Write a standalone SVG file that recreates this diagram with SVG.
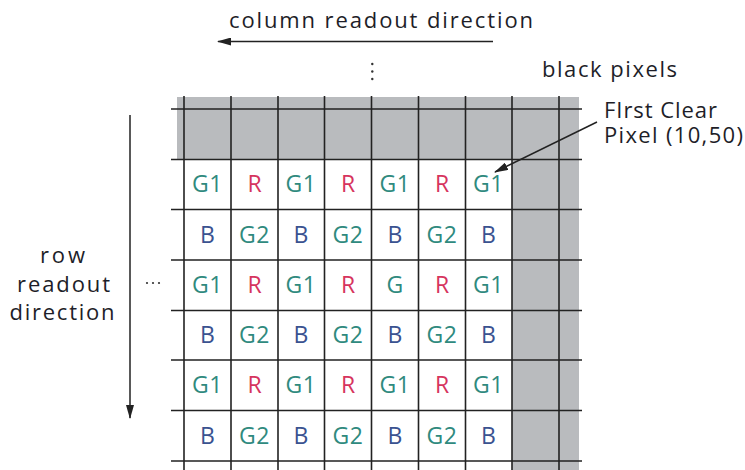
<svg xmlns="http://www.w3.org/2000/svg" width="745" height="470" viewBox="0 0 745 470">
<defs>
<style>
text{font-family:"Open Sans","Noto Sans","Liberation Sans",sans-serif;font-size:22px;fill:#1e1e28}
.c{text-anchor:middle}
.cell{font-size:23px}
.g{fill:#2f8a7e;text-anchor:middle;letter-spacing:0.5px}
.r{fill:#d6345e;text-anchor:middle}
.b{fill:#3a5290;text-anchor:middle}
.ln{stroke:#222;stroke-width:1.6;fill:none}
.ar{stroke:#222;stroke-width:1.5;fill:none}
</style>
<marker id="ah" viewBox="0 0 14 8" refX="13" refY="4" markerWidth="14" markerHeight="8" markerUnits="userSpaceOnUse" orient="auto">
<path d="M0,0 L14,4 L0,8 z" fill="#222"/>
</marker>
</defs>
<rect width="745" height="470" fill="#fff"/>
<g id="black-pixels-area">
<rect x="177" y="97" width="402" height="63" fill="#b9bbbe"/>
<rect x="512" y="97" width="67" height="373" fill="#b9bbbe"/>
</g>
<g id="grid">
<path class="ln" d="M171,109H582M171,159.5H582M171,209.5H582M171,260H582M171,310.5H582M171,360H582M171,410.5H582M171,461H582"/>
<path class="ln" d="M184,96V470M231,96V470M278,96V470M324.5,96V470M371.5,96V470M418.5,96V470M465.5,96V470M512,96V470M559,96V470"/>
</g>
<g id="cells" class="cell">
<text class="g cell" x="207.5" y="192">G1</text><text class="r cell" x="254.5" y="192">R</text><text class="g cell" x="301" y="192">G1</text><text class="r cell" x="348" y="192">R</text><text class="g cell" x="395" y="192">G1</text><text class="r cell" x="442" y="192">R</text><text class="g cell" x="488.5" y="192">G1</text>
<text class="b cell" x="207.5" y="242.5">B</text><text class="g cell" x="254.5" y="242.5">G2</text><text class="b cell" x="301" y="242.5">B</text><text class="g cell" x="348" y="242.5">G2</text><text class="b cell" x="395" y="242.5">B</text><text class="g cell" x="442" y="242.5">G2</text><text class="b cell" x="488.5" y="242.5">B</text>
<text class="g cell" x="207.5" y="292.5">G1</text><text class="r cell" x="254.5" y="292.5">R</text><text class="g cell" x="301" y="292.5">G1</text><text class="r cell" x="348" y="292.5">R</text><text class="g cell" x="395" y="292.5">G</text><text class="r cell" x="442" y="292.5">R</text><text class="g cell" x="488.5" y="292.5">G1</text>
<text class="b cell" x="207.5" y="343">B</text><text class="g cell" x="254.5" y="343">G2</text><text class="b cell" x="301" y="343">B</text><text class="g cell" x="348" y="343">G2</text><text class="b cell" x="395" y="343">B</text><text class="g cell" x="442" y="343">G2</text><text class="b cell" x="488.5" y="343">B</text>
<text class="g cell" x="207.5" y="393">G1</text><text class="r cell" x="254.5" y="393">R</text><text class="g cell" x="301" y="393">G1</text><text class="r cell" x="348" y="393">R</text><text class="g cell" x="395" y="393">G1</text><text class="r cell" x="442" y="393">R</text><text class="g cell" x="488.5" y="393">G1</text>
<text class="b cell" x="207.5" y="443.5">B</text><text class="g cell" x="254.5" y="443.5">G2</text><text class="b cell" x="301" y="443.5">B</text><text class="g cell" x="348" y="443.5">G2</text><text class="b cell" x="395" y="443.5">B</text><text class="g cell" x="442" y="443.5">G2</text><text class="b cell" x="488.5" y="443.5">B</text>
</g>
<g id="connectors">
<line class="ar" x1="493" y1="41.5" x2="218" y2="41.5" marker-end="url(#ah)"/>
<line class="ar" x1="130" y1="115" x2="130" y2="418" marker-end="url(#ah)"/>
<line class="ar" x1="597" y1="122" x2="495" y2="172" marker-end="url(#ah)"/>
</g>
<g id="labels">
<text x="229" y="28" textLength="304" lengthAdjust="spacing">column readout direction</text>
<text x="542" y="77" textLength="135" lengthAdjust="spacing">black pixels</text>
<text x="604" y="118" textLength="113" lengthAdjust="spacing">FIrst Clear</text>
<text x="604" y="143" textLength="139" lengthAdjust="spacing">Pixel (10,50)</text>
<text x="40" y="263" textLength="45" lengthAdjust="spacing">row</text>
<text x="17" y="291.5" textLength="93" lengthAdjust="spacing">readout</text>
<text x="9.5" y="320" textLength="105" lengthAdjust="spacing">direction</text>
</g>
<g id="ellipses" fill="#333">
<circle cx="372.3" cy="64" r="1.2"/><circle cx="372.3" cy="71.5" r="1.2"/><circle cx="372.3" cy="79" r="1.2"/>
<circle cx="147" cy="283" r="1.1"/><circle cx="153" cy="283" r="1.1"/><circle cx="159" cy="283" r="1.1"/>
</g>
</svg>
